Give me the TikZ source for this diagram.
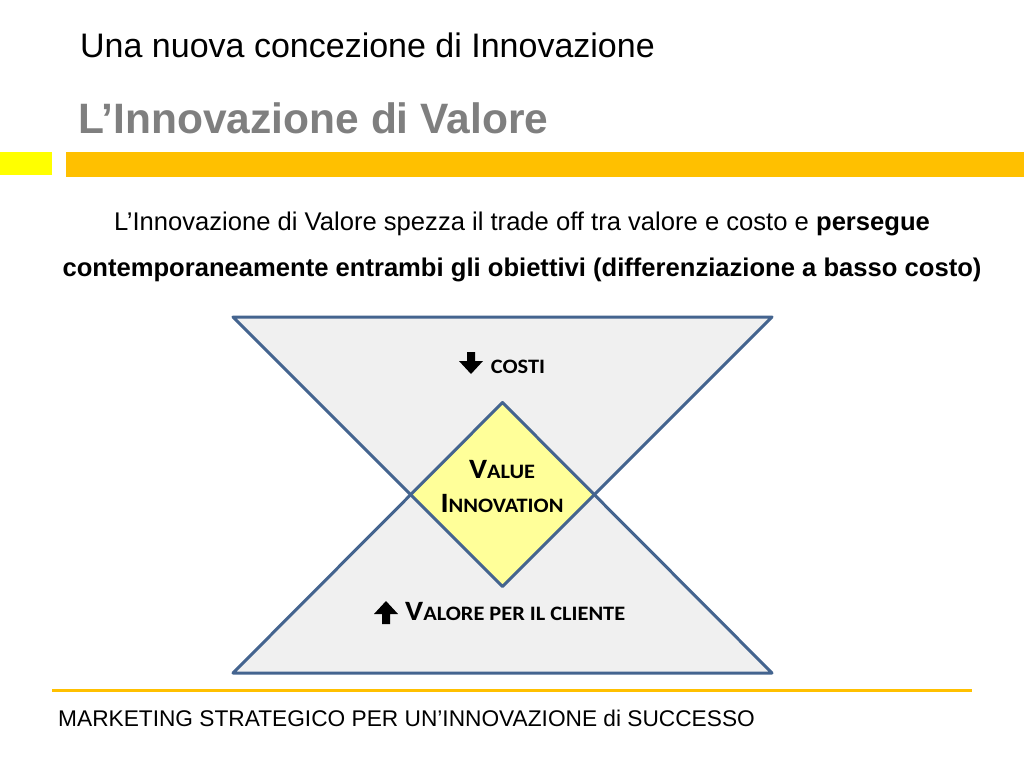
\documentclass[tikz,border=0pt]{standalone}
\usepackage{fontspec}
\setmainfont{Liberation Sans}
\newfontfamily\calfont[FakeStretch=1.09]{Carlito}
\definecolor{barorange}{HTML}{FFC000}
\definecolor{baryellow}{HTML}{FFFF00}
\definecolor{subgray}{HTML}{7F7F7F}
\definecolor{trifill}{HTML}{F0F0F0}
\definecolor{diafill}{HTML}{FFFF99}
\definecolor{edgeblue}{HTML}{44648F}
\newcommand\bigletter[1]{{\fontsize{28}{28}\selectfont #1}}
\newcommand\smallletters[1]{{\fontsize{20.5}{20.5}\selectfont #1}}
\tikzset{
  tri/.style={fill=trifill},
  triedge/.style={draw=edgeblue, line width=3pt, line join=round},
  label/.style={inner sep=0pt, font=\calfont\bfseries, anchor=base},
  arrowsym/.style={fill=black, draw=none},
}
\begin{document}
\begin{tikzpicture}[x=1pt,y=-1pt]
\useasboundingbox[fill=white] (0,0) rectangle (1024,768);
% header
\node[inner sep=0pt, anchor=base west, font=\fontsize{34}{40}\selectfont] (title) at (80,57) {Una nuova concezione di Innovazione};
\node[inner sep=0pt, anchor=base west, text=subgray, font=\fontsize{42.5}{48}\selectfont\bfseries] (subtitle) at (78,133) {L’Innovazione di Valore};
\fill[baryellow] (0,152) rectangle (52,175);
\fill[barorange] (66,152) rectangle (1024,177);
% body text
\node[inner sep=0pt, anchor=base, font=\fontsize{25.6}{30}\selectfont] (line1) at (522,230) {L’Innovazione di Valore spezza il trade off tra valore e costo e \textbf{persegue}};
\node[inner sep=0pt, anchor=base, font=\fontsize{25.6}{30}\selectfont\bfseries] (line2) at (522,276) {contemporaneamente entrambi gli obiettivi (differenziazione a basso costo)};
% triangles
\coordinate (tl) at (233,317);
\coordinate (tr) at (772,317);
\coordinate (ta) at (502.5,586.5);
\coordinate (bl) at (233,673);
\coordinate (br) at (772,673);
\coordinate (ba) at (502.5,402.5);
\coordinate (dl) at (410.5,494.5);
\coordinate (dr) at (594.5,494.5);
\fill[tri] (tl) -- (tr) -- (ta) -- cycle;
\fill[tri] (bl) -- (br) -- (ba) -- cycle;
\fill[diafill] (ba) -- (dr) -- (ta) -- (dl) -- cycle;
\draw[triedge] (tl) -- (tr) -- (ta) -- cycle;
\draw[triedge] (bl) -- (br) -- (ba) -- cycle;
% labels
\node[label] (costi) at (518,373) {\smallletters{COSTI}};
\fill[arrowsym] (467,352) -- (475,352) -- (475,361) -- (483,361) -- (471,374) -- (459,361) -- (467,361) -- cycle;
\node[label] (value) at (502,478) {\bigletter{V}\smallletters{ALUE}};
\node[label] (innov) at (502,512) {\bigletter{I}\smallletters{NNOVATION}};
\node[label, anchor=base west] (cliente) at (405,620) {\bigletter{V}\smallletters{ALORE PER IL CLIENTE}};
\fill[arrowsym] (382,624) -- (390,624) -- (390,614) -- (398,614) -- (386,601) -- (374,614) -- (382,614) -- cycle;
% footer
\draw[barorange, line width=3pt] (52,690) -- (972,690);
\node[inner sep=0pt, anchor=base west, font=\fontsize{22.7}{26}\selectfont] (footer) at (58,726) {MARKETING STRATEGICO PER UN’INNOVAZIONE di SUCCESSO};
\end{tikzpicture}
\end{document}
